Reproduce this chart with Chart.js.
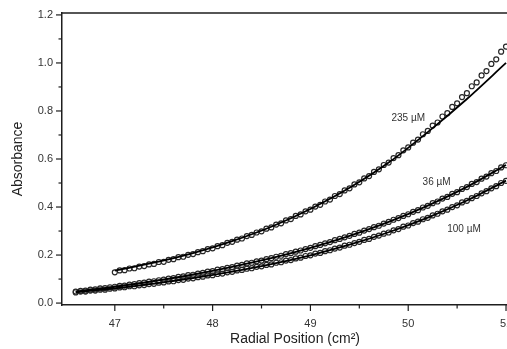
<!DOCTYPE html>
<html>
<head>
<meta charset="utf-8">
<script src="https://cdn.jsdelivr.net/npm/chart.js@4.4.1/dist/chart.umd.min.js"></script>
<style>
  html, body { margin: 0; padding: 0; background: #fff; }
</style>
</head>
<body>
<canvas id="chart" width="507" height="349"></canvas>
<script>
// radial positions (cm^2) of the scan points
const xHigh = [47.00,47.05,47.10,47.15,47.20,47.25,47.30,47.35,47.40,47.45,47.50,47.55,47.60,47.65,47.70,47.75,47.80,47.85,47.90,47.95,
  48.00,48.05,48.10,48.15,48.20,48.25,48.30,48.35,48.40,48.45,48.50,48.55,48.60,48.65,48.70,48.75,48.80,48.85,48.90,48.95,
  49.00,49.05,49.10,49.15,49.20,49.25,49.30,49.35,49.40,49.45,49.50,49.55,49.60,49.65,49.70,49.75,49.80,49.85,49.90,49.95,
  50.00,50.05,50.10,50.15,50.20,50.25,50.30,50.35,50.40,50.45,50.50,50.55,50.60,50.65,50.70,50.75,50.80,50.85,50.90,50.95,51.00];
const xLow = [46.60,46.65,46.70,46.75,46.80,46.85,46.90,46.95,
  47.00,47.05,47.10,47.15,47.20,47.25,47.30,47.35,47.40,47.45,47.50,47.55,47.60,47.65,47.70,47.75,47.80,47.85,47.90,47.95,
  48.00,48.05,48.10,48.15,48.20,48.25,48.30,48.35,48.40,48.45,48.50,48.55,48.60,48.65,48.70,48.75,48.80,48.85,48.90,48.95,
  49.00,49.05,49.10,49.15,49.20,49.25,49.30,49.35,49.40,49.45,49.50,49.55,49.60,49.65,49.70,49.75,49.80,49.85,49.90,49.95,
  50.00,50.05,50.10,50.15,50.20,50.25,50.30,50.35,50.40,50.45,50.50,50.55,50.60,50.65,50.70,50.75,50.80,50.85,50.90,50.95,51.00];

// measured absorbance (open circles)
const abs235 = [0.128,0.136,0.137,0.144,0.145,0.152,0.154,0.161,0.163,0.171,
  0.172,0.180,0.183,0.191,0.193,0.201,0.204,0.212,0.216,0.225,
  0.228,0.237,0.241,0.251,0.255,0.264,0.269,0.279,0.284,0.294,
  0.299,0.310,0.315,0.327,0.332,0.344,0.350,0.363,0.369,0.382,
  0.389,0.402,0.409,0.423,0.431,0.446,0.454,0.469,0.478,0.494,
  0.503,0.519,0.529,0.546,0.557,0.575,0.585,0.604,0.616,0.636,
  0.648,0.668,0.681,0.703,0.717,0.739,0.752,0.777,0.791,0.817,
  0.832,0.858,0.874,0.903,0.919,0.948,0.966,0.996,1.015,1.047,1.068];
const abs36 = [0.048,0.051,0.052,0.056,0.057,0.061,0.062,0.066,
  0.068,0.072,0.073,0.077,0.079,0.083,0.085,0.089,0.091,0.095,
  0.098,0.102,0.104,0.109,0.111,0.116,0.118,0.123,0.126,0.131,
  0.133,0.139,0.141,0.147,0.150,0.156,0.159,0.165,0.168,0.174,
  0.177,0.183,0.187,0.193,0.197,0.204,0.208,0.214,0.219,0.225,
  0.230,0.237,0.242,0.249,0.254,0.262,0.267,0.274,0.280,0.288,
  0.293,0.302,0.308,0.316,0.322,0.331,0.338,0.347,0.354,0.363,
  0.370,0.380,0.387,0.398,0.405,0.416,0.423,0.435,0.442,0.455,
  0.462,0.475,0.483,0.496,0.504,0.518,0.527,0.541,0.550,0.565,0.574];
const abs100 = [0.044,0.048,0.048,0.052,0.052,0.056,0.056,0.060,
  0.061,0.065,0.066,0.070,0.070,0.074,0.075,0.079,0.080,0.085,
  0.086,0.090,0.091,0.096,0.097,0.102,0.103,0.108,0.110,0.115,
  0.116,0.121,0.123,0.128,0.130,0.136,0.138,0.143,0.145,0.151,
  0.153,0.159,0.161,0.168,0.170,0.177,0.179,0.186,0.189,0.196,
  0.199,0.206,0.209,0.216,0.220,0.227,0.231,0.239,0.243,0.250,
  0.255,0.263,0.267,0.276,0.281,0.289,0.294,0.303,0.308,0.318,
  0.323,0.333,0.339,0.349,0.355,0.365,0.372,0.382,0.389,0.400,
  0.407,0.419,0.426,0.437,0.446,0.457,0.466,0.478,0.487,0.500,0.509];

// fitted curves (solid lines)
const xFitHigh = [47.0,47.4,47.8,48.2,48.6,49.0,49.4,49.8,50.2,50.6,51.0];
const fit235 = [0.135,0.168,0.208,0.258,0.318,0.392,0.480,0.585,0.712,0.850,1.000];
const xFitLow = [46.6,47.0,47.4,47.8,48.2,48.6,49.0,49.4,49.8,50.2,50.6,51.0];
const fit36 = [0.048,0.068,0.092,0.119,0.151,0.187,0.230,0.280,0.338,0.406,0.484,0.575];
const fit100 = [0.045,0.0615,0.081,0.104,0.131,0.162,0.199,0.243,0.295,0.356,0.427,0.510];

// axis ticks (every other one carries a label)
const xTicks = [47, 47.5, 48, 48.5, 49, 49.5, 50, 50.5, 51];
const yTicks = [0, 0.1, 0.2, 0.3, 0.4, 0.5, 0.6, 0.7, 0.8, 0.9, 1.0, 1.1, 1.2];

// curve labels: text and where they sit (data units)
const seriesNames = ["235 \u00b5M", "36 \u00b5M", "100 \u00b5M"];
const nameX = [50.00, 50.29, 50.57];
const nameY = [0.771, 0.504, 0.308];

const toPoints = (xs, ys) => xs.map((x, i) => ({ x: x, y: ys[i] }));

const ink = "#1e1e1e";
const fontFamily = "'Liberation Sans', Arial, sans-serif";

// top border line + major/minor tick marks + curve labels
const frameAndLabels = {
  id: "frameAndLabels",
  afterDraw(chart) {
    const { ctx, chartArea } = chart;
    const xs = chart.scales.x;
    const ys = chart.scales.y;
    ctx.save();
    ctx.strokeStyle = ink;
    ctx.lineWidth = 1.5;
    ctx.beginPath();
    ctx.moveTo(chartArea.left - 0.75, chartArea.top);
    ctx.lineTo(chartArea.right, chartArea.top);
    ctx.stroke();

    ctx.lineWidth = 1.2;
    xTicks.forEach((v, i) => {
      const px = xs.getPixelForValue(v);
      const len = i % 2 === 0 ? 6 : 3.5;
      ctx.beginPath();
      ctx.moveTo(px, chartArea.bottom);
      ctx.lineTo(px, chartArea.bottom + len);
      ctx.stroke();
    });
    yTicks.forEach((v, i) => {
      const py = ys.getPixelForValue(v);
      const len = i % 2 === 0 ? 6 : 3.5;
      ctx.beginPath();
      ctx.moveTo(chartArea.left, py);
      ctx.lineTo(chartArea.left - len, py);
      ctx.stroke();
    });

    ctx.fillStyle = "#333";
    ctx.font = "10px " + fontFamily;
    ctx.textAlign = "center";
    ctx.textBaseline = "middle";
    seriesNames.forEach((name, i) => {
      ctx.fillText(name, xs.getPixelForValue(nameX[i]), ys.getPixelForValue(nameY[i]));
    });
    ctx.restore();
  },
};

const dotStyle = {
  showLine: false,
  pointStyle: "circle",
  pointRadius: 2.5,
  pointBorderWidth: 1.2,
  pointBorderColor: "#262626",
  pointBackgroundColor: "rgba(255,255,255,0.4)",
};
const fitStyle = {
  showLine: true,
  pointRadius: 0,
  borderColor: "#000",
  borderWidth: 1.8,
  cubicInterpolationMode: "monotone",
  fill: false,
};

new Chart(document.getElementById("chart"), {
  type: "scatter",
  data: {
    datasets: [
      Object.assign({ label: "fit 235", data: toPoints(xFitHigh, fit235) }, fitStyle),
      Object.assign({ label: "fit 36", data: toPoints(xFitLow, fit36) }, fitStyle),
      Object.assign({ label: "fit 100", data: toPoints(xFitLow, fit100) }, fitStyle),
      Object.assign({ label: "235 uM", data: toPoints(xHigh, abs235) }, dotStyle),
      Object.assign({ label: "36 uM", data: toPoints(xLow, abs36) }, dotStyle),
      Object.assign({ label: "100 uM", data: toPoints(xLow, abs100) }, dotStyle),
    ],
  },
  options: {
    responsive: false,
    animation: false,
    layout: { autoPadding: false, padding: { top: 13, left: 0, right: 0, bottom: 0 } },
    plugins: {
      legend: { display: false },
      tooltip: { enabled: false },
    },
    scales: {
      x: {
        type: "linear",
        min: 46.46,
        max: 51.01,
        afterBuildTicks: (s) => { s.ticks = xTicks.map((v) => ({ value: v })); },
        afterFit: (s) => { s.height = 44; s.paddingLeft = 0; s.paddingRight = 0; },
        grid: { display: false, drawTicks: false },
        border: { display: true, color: ink, width: 1.5 },
        ticks: {
          autoSkip: false,
          maxRotation: 0,
          padding: 12,
          color: "#333",
          font: { family: fontFamily, size: 11 },
          callback: (v, i) => (i % 2 === 0 ? String(v) : ""),
        },
        title: {
          display: true,
          text: "\u2002\u2002\u2002Radial Position (cm\u00b2)",
          color: "#222",
          font: { family: fontFamily, size: 14 },
          padding: { top: 0, bottom: 1 },
        },
      },
      y: {
        type: "linear",
        min: -0.008,
        max: 1.208,
        afterBuildTicks: (s) => { s.ticks = yTicks.map((v) => ({ value: v })); },
        afterFit: (s) => { s.width = 62; s.paddingTop = 0; s.paddingBottom = 0; },
        grid: { display: false, drawTicks: false },
        border: { display: true, color: ink, width: 1.5 },
        ticks: {
          autoSkip: false,
          padding: 9,
          color: "#333",
          font: { family: fontFamily, size: 11 },
          callback: (v, i) => (i % 2 === 0 ? v.toFixed(1) : ""),
        },
        title: {
          display: true,
          text: "Absorbance",
          color: "#222",
          font: { family: fontFamily, size: 14 },
          padding: { top: 10, bottom: 0 },
        },
      },
    },
  },
  plugins: [frameAndLabels],
});
</script>
</body>
</html>
